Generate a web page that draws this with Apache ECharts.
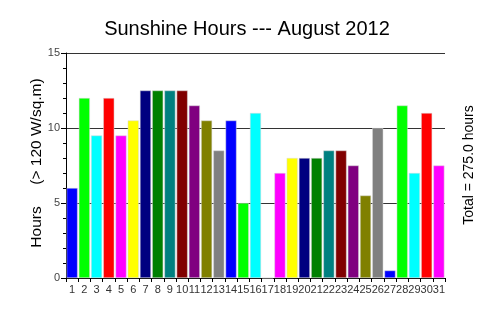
<!DOCTYPE html>
<html>
<head>
<meta charset="utf-8">
<script src="https://cdn.jsdelivr.net/npm/echarts@6/dist/echarts.min.js"></script>
<style>html,body{margin:0;padding:0;background:#fff;}#c{width:500px;height:318px;}</style>
</head>
<body>
<div id="c"></div>
<script>
const days = ['1','2','3','4','5','6','7','8','9','10','11','12','13','14','15','16','17','18','19','20','21','22','23','24','25','26','27','28','29','30','31'];
const hours = [6.0,12.0,9.5,12.0,9.5,10.5,12.5,12.5,12.5,12.5,11.5,10.5,8.5,10.5,5.0,11.0,0.0,7.0,8.0,8.0,8.0,8.5,8.5,7.5,5.5,10.0,0.5,11.5,7.0,11.0,7.5];
const palette = ['#0000ff','#00ff00','#00ffff','#ff0000','#ff00ff','#ffff00','#000080','#008000','#008080','#800000','#800080','#808000','#808080'];
const yTicks = [0,5,10,15];
const titleText = 'Sunshine Hours --- August 2012';
const yName = 'Hours     (> 120 W/sq.m)';
const total = hours.reduce((a,b)=>a+b,0);
const rightText = 'Total = ' + total.toFixed(1) + ' hours';

const chart = echarts.init(document.getElementById('c'), null, {renderer:'canvas'});
const FF = '"Liberation Sans", Arial, sans-serif';
chart.setOption({
  animation:false,
  backgroundColor:'#fff',
  title:{text:titleText,left:242,top:14,textAlign:'center',textStyle:{fontFamily:FF,fontSize:20,fontWeight:'normal',color:'#000'}},
  grid:{left:66,right:55,top:53,bottom:40,containLabel:false},
  graphic:[
    {type:'text',x:37,y:163,rotation:Math.PI/2,style:{text:yName,fontFamily:FF,fontSize:15.5,fill:'#000',textAlign:'center',textVerticalAlign:'middle'}},
    {type:'text',x:469,y:165,rotation:Math.PI/2,style:{text:rightText,fontFamily:FF,fontSize:14,fill:'#000',textAlign:'center',textVerticalAlign:'middle'}}
  ],
  xAxis:{type:'category',data:days,
    axisLine:{lineStyle:{color:'#000',width:1}},
    axisTick:{show:true,alignWithLabel:false,length:4,lineStyle:{color:'#000'}},
    axisLabel:{fontFamily:FF,fontSize:11,color:'#333',margin:6,interval:0},
    splitLine:{show:false}},
  yAxis:{type:'value',min:0,max:15,interval:5,
    axisLine:{show:true,lineStyle:{color:'#000'}},
    axisTick:{show:true,length:5,lineStyle:{color:'#000'}},
    minorTick:{show:true,splitNumber:5,length:3,lineStyle:{color:'#000'}},
    axisLabel:{fontFamily:FF,fontSize:11,color:'#444',margin:6,formatter:v=>yTicks.includes(v)?String(v):''},
    splitLine:{show:true,lineStyle:{color:'#333',width:1}}},
  series:[{type:'bar',barCategoryGap:'10%',
    data:hours.map((v,i)=>({value:v,itemStyle:{color:palette[i%palette.length]}})),
    itemStyle:{borderColor:'#d8d8d8',borderWidth:0.5}}]
});
</script>
</body>
</html>
